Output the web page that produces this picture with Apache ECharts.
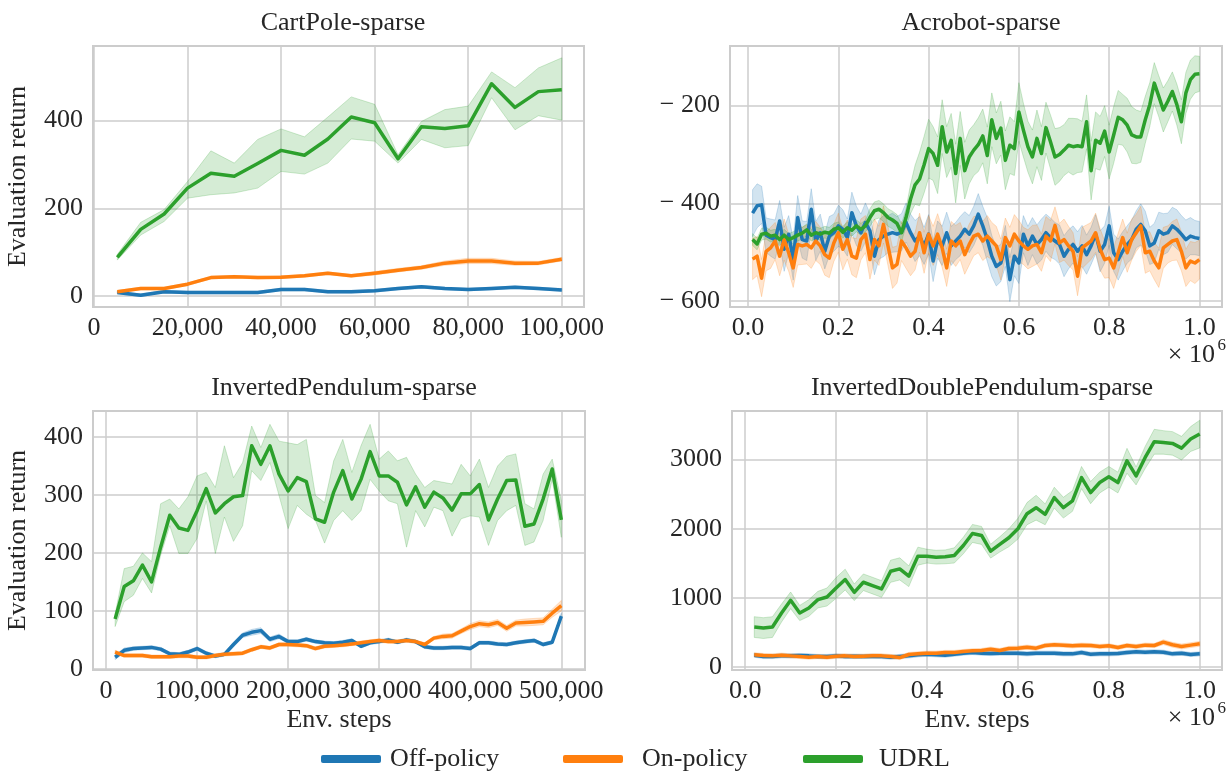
<!DOCTYPE html>
<html>
<head>
<meta charset="utf-8">
<script src="https://cdn.jsdelivr.net/npm/echarts@6/dist/echarts.min.js"></script>
<style>html,body{margin:0;padding:0;background:#fff}#c{width:1232px;height:771px}</style>
</head>
<body>
<div id="c"></div>
<script>
// ---------------- DATA ----------------
const seriesNames = ['Off-policy', 'On-policy', 'UDRL'];
const panelTitles = ['CartPole-sparse', 'Acrobot-sparse', 'InvertedPendulum-sparse', 'InvertedDoublePendulum-sparse'];

// CartPole-sparse
const cpSteps = [5000,10000,15000,20000,25000,30000,35000,40000,45000,50000,55000,60000,65000,70000,75000,80000,85000,90000,95000,100000];
const cpOff = [8,2,10,8,8,8,8,15,15,10,10,12,17,21,17,15,17,20,17,14];
const cpOffSpread = [3,3,3,3,3,3,3,3,3,3,3,3,3,3,3,3,3,3,3,3];
const cpOn = [10,17,17,27,42,44,42,43,46,52,46,52,59,65,75,80,80,75,75,84];
const cpOnSpread = [3,3,3,3,3,3,3,3,3,3,3,4,4,4,5,6,6,5,4,4];
const cpUdrl = [88,152,187,246,280,273,302,332,321,358,408,395,313,386,382,388,484,430,466,470];
const cpUdrlLo = [82,139,170,223,231,235,246,284,278,303,358,353,303,357,338,343,452,379,411,401];
const cpUdrlHi = [95,168,197,261,331,303,357,381,363,408,454,437,322,398,425,433,511,475,520,543];
const cpXTicks = [0,20000,40000,60000,80000,100000];
const cpYTicks = [0,200,400];

// Acrobot-sparse
const acSteps = [10000,20000,30000,40000,50000,60000,70000,80000,90000,100000,
 110000,120000,130000,140000,150000,160000,170000,180000,190000,200000,
 210000,220000,230000,240000,250000,260000,270000,280000,290000,300000,
 310000,320000,330000,340000,350000,360000,370000,380000,390000,400000,
 410000,420000,430000,440000,450000,460000,470000,480000,490000,500000,
 510000,520000,530000,540000,550000,560000,570000,580000,590000,600000,
 610000,620000,630000,640000,650000,660000,670000,680000,690000,700000,
 710000,720000,730000,740000,750000,760000,770000,780000,790000,800000,
 810000,820000,830000,840000,850000,860000,870000,880000,890000,900000,
 910000,920000,930000,940000,950000,960000,970000,980000,990000,1000000];
const acOff = [-420,-405,-403,-465,-470,-474,-436,-494,-463,-515,-429,-474,-477,-412,-477,-460,-498,-467,-460,-446,
 -453,-470,-419,-446,-460,-439,-456,-508,-474,-467,-463,-460,-463,-459,-439,-460,-477,-467,-487,-463,
 -518,-474,-487,-460,-487,-477,-467,-453,-463,-446,-422,
 -446,-474,-508,-529,-522,-487,-556,-508,-522,-463,-487,-467,-484,-474,-460,-470,-477,-484,-508,-494,
 -484,-498,-487,-505,-487,-463,-498,-484,-446,-501,-515,-498,-484,-474,-453,-443,-456,-487,-481,-456,
 -463,-460,-446,-453,-463,-474,-467,-470,-472];
const acOffSpread = [48,45,38,35,38,40,42,45,38,42,45,38,40,42,40,38,36,40,38,42,40,38,42,40,38,40,36,38,40,42,
 38,40,36,38,40,38,42,40,38,40,42,38,40,42,40,38,40,36,38,40,42,
 40,45,42,40,38,42,45,40,42,38,40,38,40,42,38,40,38,40,42,40,38,40,42,40,38,40,42,38,40,38,
 42,40,38,40,38,42,40,38,40,38,42,40,38,40,38,40,38,35,35];
const acOn = [-514,-508,-553,-498,-491,-477,-508,-474,-501,-532,-484,-487,-484,-491,-477,-487,-505,-512,-481,-460,
 -494,-474,-508,-512,-474,-463,-515,-474,-487,-443,-487,-532,-525,-477,-491,-508,-498,-460,-501,-463,
 -487,-463,-491,-532,-477,-487,-477,-505,-484,-467,-463,
 -477,-467,-477,-487,-515,-470,-487,-463,-477,-487,-494,-487,-484,-501,-467,-477,-445,-481,-474,-487,
 -498,-549,-491,-484,-477,-460,-494,-515,-512,-532,-501,-470,-501,-474,-460,-446,-501,-498,-518,-532,
 -491,-484,-477,-474,-498,-532,-518,-522,-515];
const acOnSpread = [42,40,38,40,42,38,40,42,38,40,42,38,40,42,40,38,42,40,38,40,42,40,38,40,42,38,40,42,40,38,
 40,42,38,40,42,40,38,40,42,38,40,42,40,38,40,42,38,40,42,40,38,
 40,42,38,40,42,40,38,40,42,38,40,42,40,38,40,42,38,40,42,40,38,40,42,40,38,40,42,38,40,42,
 40,38,40,42,38,40,42,40,38,40,42,38,40,42,40,38,40,42,40];
const acUdrl = [-474,-483,-463,-461,-467,-465,-474,-465,-474,-470,-465,-461,-454,-465,-460,-463,-459,-461,-453,-450,
 -459,-450,-455,-446,-453,-446,-429,-415,-412,-419,-429,-434,-441,-460,-429,-391,-362,-350,-321,-288,
 -298,-322,-243,-295,-271,-339,-267,-333,-305,-291,-280,
 -262,-302,-229,-267,-246,-312,-281,-288,-213,-250,-284,-305,-267,-298,-245,-274,-305,-300,-291,-281,
 -284,-282,-284,-233,-333,-271,-277,-252,-295,-260,-224,-229,-240,-260,-264,-264,-229,-198,-154,-181,
 -209,-191,-171,-198,-233,-174,-147,-136,-135];
const acUdrlSpread = [12,12,12,12,12,12,12,12,12,12,12,12,12,12,12,12,12,12,12,12,12,12,12,12,12,12,
 18,18,18,18,18,18,18,18,18,30,40,55,58,60,55,58,55,52,55,60,55,58,55,52,55,
 55,58,55,52,55,60,58,55,60,55,52,55,58,55,52,55,58,55,52,55,58,55,52,55,60,58,55,52,55,58,
 55,52,55,58,55,52,48,45,42,42,45,42,40,42,45,42,40,38,36];
const acXTicks = [0,200000,400000,600000,800000,1000000];
const acYTicks = [-600,-400,-200];

// InvertedPendulum-sparse
const ipSteps = [10000,20000,30000,40000,50000,60000,70000,80000,90000,100000,
 110000,120000,130000,140000,150000,160000,170000,180000,190000,200000,
 210000,220000,230000,240000,250000,260000,270000,280000,290000,300000,
 310000,320000,330000,340000,350000,360000,370000,380000,390000,400000,
 410000,420000,430000,440000,450000,460000,470000,480000,490000,500000];
const ipOff = [20,32,35,36,37,34,26,25,29,35,27,22,25,42,58,63,66,51,56,47,47,51,47,45,44,
 46,49,39,45,47,50,46,50,47,38,36,36,37,37,35,45,45,43,42,45,47,49,42,46,91];
const ipOffSpread = [4,4,3,3,3,3,3,3,3,3,3,3,3,4,4,5,5,4,4,3,3,3,3,3,3,
 3,3,3,3,3,3,3,3,3,3,3,3,3,3,3,3,3,3,3,3,3,3,3,3,5];
const ipOn = [29,23,23,23,21,21,21,22,22,20,20,23,25,26,27,33,38,36,42,42,41,40,35,39,40,
 41,43,45,47,49,47,47,49,47,42,53,56,57,65,73,78,76,80,70,79,80,81,82,96,109];
const ipOnSpread = [3,3,3,3,3,3,3,3,3,3,3,3,3,3,3,3,3,3,3,3,3,3,3,3,3,
 3,3,3,3,3,3,3,3,3,3,3,4,4,4,5,5,5,5,5,5,6,6,6,7,9];
const ipUdrl = [86,142,152,179,150,210,265,243,239,273,311,269,285,297,299,385,353,385,336,307,330,323,259,253,305,
 342,293,327,375,333,333,322,283,314,279,305,295,274,302,302,318,257,293,325,326,246,250,293,345,257];
const ipUdrlHi = [95,173,177,200,185,285,293,276,297,333,339,313,385,330,356,419,382,422,393,390,387,396,299,287,359,
 396,339,385,422,362,376,359,365,336,313,325,322,319,353,333,362,313,350,367,371,285,276,336,362,290];
const ipUdrlLo = [73,116,127,156,131,196,247,199,199,225,290,199,262,220,247,342,325,356,299,242,282,267,256,217,256,
 273,256,273,327,307,290,285,210,273,245,279,273,229,259,264,262,213,256,273,282,213,219,256,327,227];
const ipXTicks = [0,100000,200000,300000,400000,500000];
const ipYTicks = [0,100,200,300,400];

// InvertedDoublePendulum-sparse
const idpSteps = [20000,40000,60000,80000,100000,120000,140000,160000,180000,200000,
 220000,240000,260000,280000,300000,320000,340000,360000,380000,400000,
 420000,440000,460000,480000,500000,520000,540000,560000,580000,600000,
 620000,640000,660000,680000,700000,720000,740000,760000,780000,800000,
 820000,840000,860000,880000,900000,920000,940000,960000,980000,1000000];
const idpOff = [174,155,155,164,164,169,164,155,155,164,155,159,155,159,155,145,155,164,179,188,
 179,174,188,203,213,203,198,203,203,203,193,203,203,203,193,193,213,188,193,193,
 198,213,222,217,222,217,193,203,184,193];
const idpOffSpread = [30,30,30,30,30,30,30,30,30,30,30,30,30,30,30,30,30,30,30,30,
 30,30,30,30,30,30,30,30,30,30,30,30,30,30,30,30,30,30,30,30,30,30,30,30,30,30,30,30,30,30];
const idpOn = [179,169,164,174,164,155,145,155,145,159,164,155,159,164,164,155,140,184,193,203,
 203,213,213,227,237,242,261,242,271,275,290,275,314,324,319,309,319,314,300,309,
 285,314,300,319,314,362,324,300,319,338];
const idpOnSpread = [30,30,30,30,30,30,30,30,30,30,30,30,30,30,30,30,30,30,30,30,
 30,30,30,30,30,30,30,30,30,30,30,30,30,30,30,30,30,30,30,30,30,30,30,30,30,35,35,35,35,35];
const idpUdrl = [580,565,580,783,966,783,855,976,1014,1145,1266,1082,1227,1179,1130,1386,1420,1314,1604,1604,
 1589,1594,1614,1758,1932,1903,1676,1773,1870,2000,2217,2304,2208,2449,2304,2401,2739,2522,2667,2749,
 2667,2981,2763,3029,3256,3246,3232,3164,3295,3367];
const idpUdrlSpread = [150,150,150,130,120,110,120,120,130,150,150,120,120,120,120,160,160,150,130,100,
 100,100,110,120,130,130,100,110,130,150,160,180,150,150,150,150,160,160,150,150,
 150,180,130,160,180,170,170,170,180,200];
const idpXTicks = [0,200000,400000,600000,800000,1000000];
const idpYTicks = [0,1000,2000,3000];

// ---------------- STYLE ----------------
const FONT = 'Liberation Serif';
const TXT = '#262626';
const GRIDC = '#cccccc';
const COLORS = ['#1f77b4', '#ff7f0e', '#2ca02c'];
const FS = 26;

function rgba(hex, a) {
  const n = parseInt(hex.slice(1), 16);
  return 'rgba(' + (n >> 16) + ',' + ((n >> 8) & 255) + ',' + (n & 255) + ',' + a + ')';
}
const commaFmt = v => Number(v).toLocaleString('en-US');
const milFmt = v => (v / 1e6).toFixed(1);
const negFmt = v => v < 0 ? '\u2212 ' + Math.abs(v) : String(v);

function xAx(gi, min, max, ticks, fmt, name) {
  return {
    type: 'value', gridIndex: gi, min: min, max: max,
    axisLine: { show: false },
    axisTick: { show: false, customValues: ticks },
    axisLabel: { customValues: ticks, formatter: fmt, color: TXT, fontFamily: FONT, fontSize: FS, margin: 8 },
    splitLine: { show: true, lineStyle: { color: GRIDC, width: 1.5 } },
    name: name || '', nameLocation: 'middle', nameGap: 37,
    nameTextStyle: { color: TXT, fontFamily: FONT, fontSize: 26 }
  };
}
function yAx(gi, min, max, ticks, fmt, name) {
  return {
    type: 'value', gridIndex: gi, min: min, max: max,
    axisLine: { show: false },
    axisTick: { show: false, customValues: ticks },
    axisLabel: { customValues: ticks, formatter: fmt, color: TXT, fontFamily: FONT, fontSize: FS, margin: 10 },
    splitLine: { show: true, lineStyle: { color: GRIDC, width: 1.5 } },
    name: name || '', nameLocation: 'middle', nameGap: 62,
    nameTextStyle: { color: TXT, fontFamily: FONT, fontSize: 26 }
  };
}
function lineS(name, gi, xs, ys, color) {
  return {
    name: name, type: 'line', xAxisIndex: gi, yAxisIndex: gi,
    data: xs.map((x, i) => [x, ys[i]]),
    showSymbol: false, symbol: 'none',
    lineStyle: { width: 3.5, color: color, join: 'round' }, itemStyle: { color: color },
    emphasis: { disabled: true }, animation: false, silent: true, z: 2
  };
}
function bandS(gi, xs, lo, hi, color) {
  return {
    type: 'custom', xAxisIndex: gi, yAxisIndex: gi,
    data: xs.map((x, i) => [x, lo[i], hi[i]]),
    encode: { x: 0, y: [1, 2] },
    renderItem: function (params, api) {
      if (params.dataIndex !== 0) return null;
      const top = [], bot = [];
      for (let i = 0; i < xs.length; i++) {
        top.push(api.coord([xs[i], hi[i]]));
        bot.push(api.coord([xs[i], lo[i]]));
      }
      return {
        type: 'polygon', shape: { points: top.concat(bot.reverse()) },
        style: { fill: rgba(color, 0.2), stroke: rgba(color, 0.22), lineWidth: 1 }
      };
    },
    silent: true, animation: false, z: 2
  };
}
function spreadBand(gi, xs, ys, sp, color) {
  return bandS(gi, xs, ys.map((v, i) => v - sp[i]), ys.map((v, i) => v + sp[i]), color);
}

const series = [
  lineS(seriesNames[0], 0, cpSteps, cpOff, COLORS[0]), spreadBand(0, cpSteps, cpOff, cpOffSpread, COLORS[0]),
  lineS(seriesNames[1], 0, cpSteps, cpOn, COLORS[1]), spreadBand(0, cpSteps, cpOn, cpOnSpread, COLORS[1]),
  lineS(seriesNames[2], 0, cpSteps, cpUdrl, COLORS[2]), bandS(0, cpSteps, cpUdrlLo, cpUdrlHi, COLORS[2]),
  lineS(seriesNames[0], 1, acSteps, acOff, COLORS[0]), spreadBand(1, acSteps, acOff, acOffSpread, COLORS[0]),
  lineS(seriesNames[1], 1, acSteps, acOn, COLORS[1]), spreadBand(1, acSteps, acOn, acOnSpread, COLORS[1]),
  lineS(seriesNames[2], 1, acSteps, acUdrl, COLORS[2]), spreadBand(1, acSteps, acUdrl, acUdrlSpread, COLORS[2]),
  lineS(seriesNames[0], 2, ipSteps, ipOff, COLORS[0]), spreadBand(2, ipSteps, ipOff, ipOffSpread, COLORS[0]),
  lineS(seriesNames[1], 2, ipSteps, ipOn, COLORS[1]), spreadBand(2, ipSteps, ipOn, ipOnSpread, COLORS[1]),
  lineS(seriesNames[2], 2, ipSteps, ipUdrl, COLORS[2]), bandS(2, ipSteps, ipUdrlLo, ipUdrlHi, COLORS[2]),
  lineS(seriesNames[0], 3, idpSteps, idpOff, COLORS[0]), spreadBand(3, idpSteps, idpOff, idpOffSpread, COLORS[0]),
  lineS(seriesNames[1], 3, idpSteps, idpOn, COLORS[1]), spreadBand(3, idpSteps, idpOn, idpOnSpread, COLORS[1]),
  lineS(seriesNames[2], 3, idpSteps, idpUdrl, COLORS[2]), spreadBand(3, idpSteps, idpUdrl, idpUdrlSpread, COLORS[2])
];

const grids = [
  { left: 93, top: 46, width: 491, height: 261 },
  { left: 730, top: 46, width: 492, height: 261 },
  { left: 93, top: 411, width: 492, height: 259 },
  { left: 732, top: 411, width: 490, height: 259 }
].map(g => Object.assign({ show: true, borderColor: GRIDC, borderWidth: 2, backgroundColor: 'transparent', containLabel: false }, g));

function titleAt(text, cx, top) {
  return { text: text, left: cx, top: top, textAlign: 'center',
    textStyle: { color: TXT, fontFamily: FONT, fontSize: 26, fontWeight: 'normal' } };
}
function legendAt(name, left, gapPad) {
  return {
    data: [{ name: name, icon: 'roundRect' }], left: left, top: 741, orient: 'horizontal',
    itemWidth: 60, itemHeight: 8, selectedMode: false,
    textStyle: { color: TXT, fontFamily: FONT, fontSize: 26, padding: [0, 0, 0, gapPad] }
  };
}
function offsetText(right, y) {
  return [
    { type: 'text', right: right + 13, top: y, style: { text: '\u00d7 10', fill: TXT, font: '26px "Liberation Serif"' } },
    { type: 'text', right: right + 2, top: y - 5, style: { text: '6', fill: TXT, font: '17px "Liberation Serif"' } }
  ];
}

const chart = echarts.init(document.getElementById('c'), null, { renderer: 'canvas' });
chart.setOption({
  animation: false,
  backgroundColor: '#ffffff',
  title: [
    titleAt(panelTitles[0], 338, 5), titleAt(panelTitles[1], 976, 5),
    titleAt(panelTitles[2], 339, 370), titleAt(panelTitles[3], 977, 370)
  ],
  legend: [legendAt(seriesNames[0], 316, 4), legendAt(seriesNames[1], 558, 14), legendAt(seriesNames[2], 798, 11)],
  grid: grids,
  xAxis: [
    xAx(0, -200, 104750, cpXTicks, commaFmt),
    xAx(1, -40000, 1050000, acXTicks, milFmt),
    xAx(2, -14300, 526000, ipXTicks, commaFmt, 'Env. steps'),
    xAx(3, -29000, 1049000, idpXTicks, milFmt, 'Env. steps')
  ],
  yAxis: [
    yAx(0, -25, 570, cpYTicks, v => String(v), 'Evaluation return'),
    yAx(1, -612, -78, acYTicks, negFmt),
    yAx(2, -2, 445, ipYTicks, v => String(v), 'Evaluation return'),
    yAx(3, -40, 3700, idpYTicks, v => String(v))
  ],
  graphic: offsetText(4, 342).concat(offsetText(4, 705)),
  series: series
});
</script>
</body>
</html>
